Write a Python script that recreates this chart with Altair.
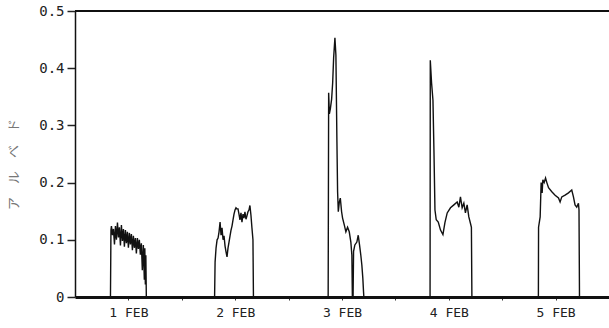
import altair as alt
import pandas as pd

# Hour of day (local) and albedo for each daily pulse
day1_hours = [7.97, 8.08, 8.19, 8.42, 8.64, 8.87, 9.09, 9.31, 9.54, 9.76, 9.98, 10.21, 10.43,
              10.66, 10.88, 11.10, 11.33, 11.55, 11.78, 12.00, 12.22, 12.45, 12.67, 12.90,
              13.12, 13.34, 13.57, 13.79, 14.02, 14.24, 14.46, 14.69, 14.91, 15.13, 15.36,
              15.58, 15.69, 15.81, 15.92, 16.03]
day1_vals = [0.0, 0.117, 0.124, 0.108, 0.119, 0.092, 0.124, 0.100, 0.130, 0.104, 0.122, 0.090,
             0.126, 0.098, 0.119, 0.088, 0.117, 0.094, 0.114, 0.086, 0.112, 0.092, 0.110,
             0.082, 0.107, 0.086, 0.103, 0.076, 0.103, 0.084, 0.100, 0.074, 0.094, 0.047,
             0.091, 0.030, 0.085, 0.022, 0.073, 0.0]

day2_hours = [7.37, 7.48, 7.70, 7.93, 8.15, 8.37, 8.60, 8.82, 9.04, 9.27, 9.49, 9.72, 9.94,
              10.16, 10.39, 10.61, 10.84, 11.06, 11.28, 11.51, 11.73, 11.96, 12.18, 12.40,
              12.63, 12.85, 13.07, 13.30, 13.52, 13.75, 13.97, 14.19, 14.42, 14.64, 14.87,
              15.09, 15.31, 15.54, 15.76, 15.99, 16.10]
day2_vals = [0.0, 0.061, 0.086, 0.100, 0.103, 0.114, 0.131, 0.108, 0.121, 0.100, 0.107, 0.089,
             0.079, 0.070, 0.086, 0.096, 0.107, 0.117, 0.124, 0.135, 0.145, 0.152, 0.156,
             0.154, 0.154, 0.145, 0.135, 0.147, 0.131, 0.145, 0.138, 0.149, 0.136, 0.142,
             0.149, 0.152, 0.160, 0.143, 0.121, 0.100, 0.0]

day3_hours = [8.89, 9.00, 9.16, 9.38, 9.67, 9.90, 10.12, 10.41, 10.63, 10.86, 11.01, 11.17,
              11.40, 11.62, 11.91, 12.13, 12.51, 12.87, 13.25, 13.63, 13.99, 14.22, 14.33,
              14.49, 14.60, 14.89, 15.34, 15.65, 15.94, 16.23, 16.46, 16.68, 16.84, 16.91]
day3_vals = [0.0, 0.357, 0.320, 0.329, 0.346, 0.374, 0.418, 0.453, 0.423, 0.271, 0.184, 0.149,
             0.166, 0.173, 0.149, 0.138, 0.126, 0.114, 0.122, 0.114, 0.096, 0.073, 0.0,
             0.0, 0.080, 0.091, 0.096, 0.108, 0.091, 0.073, 0.056, 0.033, 0.009, 0.0]

day4_hours = [7.79, 7.84, 8.13, 8.44, 8.66, 8.89, 9.18, 9.63, 10.14, 10.68, 11.13, 11.64,
              12.38, 13.14, 13.88, 14.26, 14.62, 15.00, 15.38, 15.74, 16.12, 16.50, 16.86,
              17.08, 17.19]
day4_vals = [0.0, 0.414, 0.374, 0.344, 0.257, 0.152, 0.135, 0.131, 0.117, 0.109, 0.130, 0.147,
             0.156, 0.161, 0.166, 0.157, 0.175, 0.156, 0.164, 0.147, 0.161, 0.140, 0.129,
             0.122, 0.0]

day5_hours = [8.13, 8.17, 8.53, 8.75, 8.98, 9.13, 9.43, 9.74, 10.03, 10.41, 11.15, 11.89,
              12.65, 13.01, 13.39, 14.13, 14.89, 15.63, 16.01, 16.37, 16.75, 17.13, 17.26,
              17.37]
day5_vals = [0.0, 0.122, 0.140, 0.200, 0.182, 0.205, 0.200, 0.208, 0.200, 0.191, 0.184, 0.178,
             0.173, 0.166, 0.175, 0.178, 0.182, 0.187, 0.175, 0.161, 0.157, 0.164, 0.152, 0.0]

days = [1, 2, 3, 4, 5]
hours_all = [day1_hours, day2_hours, day3_hours, day4_hours, day5_hours]
vals_all = [day1_vals, day2_vals, day3_vals, day4_vals, day5_vals]

y_ticks = [0, 0.1, 0.2, 0.3, 0.4, 0.5]
x_ticks = [1.5, 2, 2.5, 3, 3.5, 4, 4.5, 5, 5.5]

rows = []
for d, hs, vs in zip(days, hours_all, vals_all):
    for h, v in zip(hs, vs):
        rows.append({"t": d + h / 24.0, "albedo": v, "day": d})
df = pd.DataFrame(rows)

FONT = "DejaVu Sans Mono"

x_axis = alt.Axis(
    values=x_ticks,
    labelExpr="datum.value % 1 == 0.5 ? floor(datum.value) + ' FEB' : ''",
    labelFont=FONT, labelFontSize=13, labelColor="#222", labelPadding=6,
    tickSize=3, tickColor="#333", tickWidth=1,
    domainWidth=3, domainColor="#111",
    grid=False, title=None, labelFlush=False,
)
y_axis = alt.Axis(
    values=y_ticks,
    labelExpr="datum.value == 0 ? '0' : format(datum.value, '.1f')",
    labelFont=FONT, labelFontSize=14, labelColor="#222", labelPadding=3,
    tickSize=8, tickColor="#222", tickWidth=1.5,
    domainWidth=1.5, domainColor="#111",
    grid=False,
    title="ア　ル　ベ　ド", titleFont="Noto Sans CJK JP", titleFontSize=13,
    titleFontWeight="normal", titleColor="#777", titleAngle=-90,
    titleX=-55, titleY=153, titleBaseline="bottom", titleAlign="center",
)

line = alt.Chart(df).mark_line(color="#111", strokeWidth=1.4, clip=True).encode(
    x=alt.X("t:Q", scale=alt.Scale(domain=[1, 6], nice=False, zero=False), axis=x_axis),
    y=alt.Y("albedo:Q", scale=alt.Scale(domain=[0, 0.5], nice=False), axis=y_axis),
    detail="day:N",
)

top = alt.Chart(df).mark_rule(color="#111", strokeWidth=1.5).encode(
    y=alt.datum(0.5),
)

chart = (
    alt.layer(line, top)
    .properties(
        width=534, height=286,
        autosize=alt.AutoSizeParams(type="none"),
        padding={"left": 75, "top": 11, "right": 0, "bottom": 31},
        background="white",
    )
    .configure_view(stroke=None)
)

chart.save("out.html", embed_options={"renderer": "svg", "actions": False})
